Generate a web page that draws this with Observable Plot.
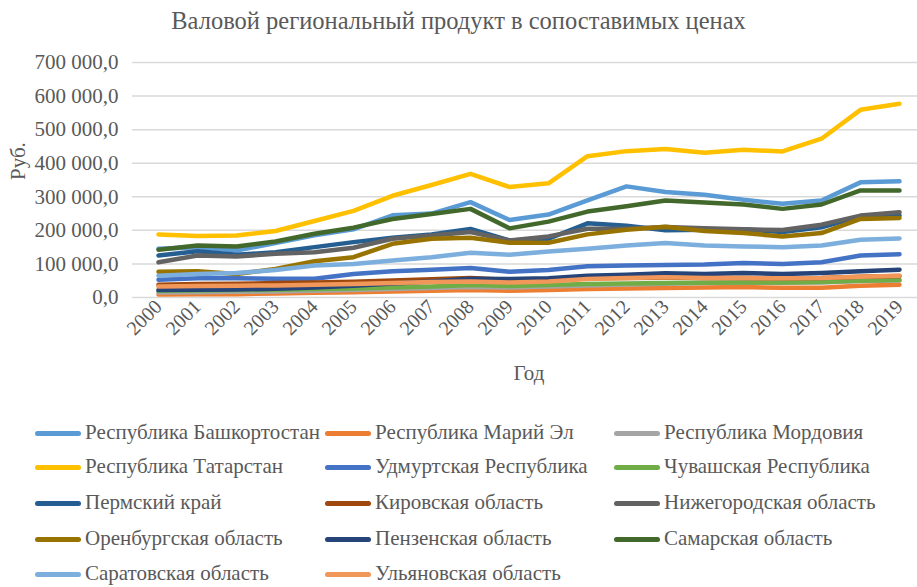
<!DOCTYPE html>
<html><head><meta charset="utf-8">
<script src="https://cdn.jsdelivr.net/npm/d3@7"></script>
<script src="https://cdn.jsdelivr.net/npm/@observablehq/plot@0.6"></script>
<style>
html,body{margin:0;padding:0;background:#fff;}
body{width:917px;height:587px;overflow:hidden;position:relative;font-family:"Liberation Serif","Times New Roman","DejaVu Serif",serif;color:#595959;}
#title{position:absolute;left:0;top:0;width:917px;height:42px;line-height:42px;text-align:center;font-size:24.5px;}
#chart{position:absolute;left:0;top:45px;width:917px;overflow:hidden;}
#legend{position:absolute;left:0;top:0;width:917px;height:587px;pointer-events:none;}
.item{position:absolute;font-size:21px;line-height:22px;white-space:nowrap;}
.sw{display:inline-block;width:46px;height:5px;border-radius:3px;vertical-align:middle;margin-right:4px;position:relative;top:-1px;}
</style>
</head><body>
<div id="title">Валовой региональный продукт в сопоставимых ценах</div>
<div id="chart"></div>
<div id="legend"></div>
<script>
const years = [2000,2001,2002,2003,2004,2005,2006,2007,2008,2009,2010,2011,2012,2013,2014,2015,2016,2017,2018,2019];
const regions = ["Республика Башкортостан","Республика Марий Эл","Республика Мордовия","Республика Татарстан","Удмуртская Республика","Чувашская Республика","Пермский край","Кировская область","Нижегородская область","Оренбургская область","Пензенская область","Самарская область","Саратовская область","Ульяновская область"];
const colors = ["#5B9BD5","#ED7D31","#A5A5A5","#FFC000","#4472C4","#70AD47","#255E91","#9E480E","#636363","#997300","#264478","#43682B","#7CAFDD","#F1975A"];
const yTicks = [0,100000,200000,300000,400000,500000,600000,700000];

const bashkortostan = [145000,150000,140000,162000,185000,203000,245000,250000,284000,231000,247000,289000,331000,314000,306000,291000,279000,289000,343000,346000];
const mariEl        = [9000,10000,10000,12000,14000,16000,18000,20000,22000,20000,22000,25000,27000,28000,30000,31000,29000,29000,35000,38000];
const mordovia      = [15000,16000,17000,18000,20000,22000,25000,28000,31000,30000,33000,36000,39000,41000,43000,44000,44000,45000,49000,51000];
const tatarstan     = [188000,183000,185000,198000,228000,258000,303000,335000,368000,329000,340000,421000,436000,442000,431000,440000,435000,473000,559000,577000];
const udmurtia      = [53000,57000,57000,56000,56000,70000,78000,83000,88000,77000,82000,93000,95000,97000,98000,103000,100000,105000,125000,129000];
const chuvashia     = [20000,21000,22000,23000,25000,27000,30000,33000,37000,34000,37000,40000,42000,43000,44000,45000,45000,46000,50000,52000];
const perm          = [125000,138000,127000,135000,150000,165000,178000,188000,204000,170000,175000,221000,214000,200000,202000,203000,195000,209000,242000,244000];
const kirov         = [38000,40000,41000,43000,45000,47000,51000,54000,58000,52000,54000,57000,58000,59000,58000,58000,57000,58000,62000,64000];
const nizhny        = [105000,125000,122000,130000,135000,148000,175000,185000,195000,170000,182000,205000,205000,210000,206000,203000,201000,217000,244000,254000];
const orenburg      = [77000,78000,70000,85000,108000,120000,160000,175000,178000,163000,163000,188000,202000,211000,198000,192000,182000,192000,234000,237000];
const penza         = [22000,23000,24000,26000,30000,35000,42000,48000,56000,55000,57000,65000,68000,72000,70000,73000,70000,73000,78000,83000];
const samara        = [142000,155000,152000,167000,190000,208000,234000,249000,264000,206000,226000,256000,272000,289000,283000,277000,264000,277000,319000,319000];
const saratov       = [65000,70000,73000,82000,95000,100000,110000,120000,133000,127000,137000,145000,155000,162000,155000,152000,150000,155000,172000,176000];
const ulyanovsk     = [33000,34000,35000,36000,38000,40000,43000,46000,48000,45000,48000,55000,58000,60000,58000,58000,57000,58000,62000,65000];

const series = [bashkortostan,mariEl,mordovia,tatarstan,udmurtia,chuvashia,perm,kirov,nizhny,orenburg,penza,samara,saratov,ulyanovsk];

const data = regions.flatMap((r,i)=>years.map((y,j)=>({region:r, year:String(y), value:series[i][j]})));
const loc = d3.formatLocale({decimal:",", thousands:" ", grouping:[3], currency:["",""]});
const fmt = loc.format(",.1f");
const ff = "'Liberation Serif','Times New Roman','DejaVu Serif',serif";

const chart = Plot.plot({
  width:917, height:355,
  marginLeft:132, marginRight:-8, marginTop:17, marginBottom:103,
  style:{fontFamily:ff, fontSize:"21px", color:"#595959", background:"transparent"},
  x:{type:"point", domain:years.map(String), padding:0.5},
  y:{domain:[0,700000]},
  color:{domain:regions, range:colors},
  marks:[
    Plot.ruleY(yTicks, {stroke:"#d9d9d9", strokeWidth:1.5}),
    Plot.axisY({ticks:yTicks, tickFormat:fmt, tickSize:0, tickPadding:14, label:null, fontSize:21, fill:"#595959"}),
    Plot.axisX({tickRotate:-45, tickSize:0, tickPadding:6, label:null, fontSize:20, fill:"#595959"}),
    Plot.line(data, {x:"year", y:"value", z:"region", stroke:"region", strokeWidth:4.5, strokeLinejoin:"round", strokeLinecap:"round"}),
    Plot.text(["Руб."], {frameAnchor:"left", rotate:-90, dx:-114, fontSize:21, fill:"#595959"}),
    Plot.text(["Год"], {frameAnchor:"bottom", dy:82, fontSize:21, fill:"#595959"})
  ]
});
document.getElementById("chart").appendChild(chart);

const colX = [35,325,614];
const rowY = [432,466,502,538,573];
const legend = document.getElementById("legend");
regions.forEach((r,i)=>{
  const row = Math.floor(i/3), col = i%3;
  const d = document.createElement("div");
  d.className = "item";
  d.style.left = colX[col] + "px";
  d.style.top = (rowY[row]-11) + "px";
  d.innerHTML = `<span class="sw" style="background:${colors[i]}"></span>${r}`;
  legend.appendChild(d);
});
</script>
</body></html>
